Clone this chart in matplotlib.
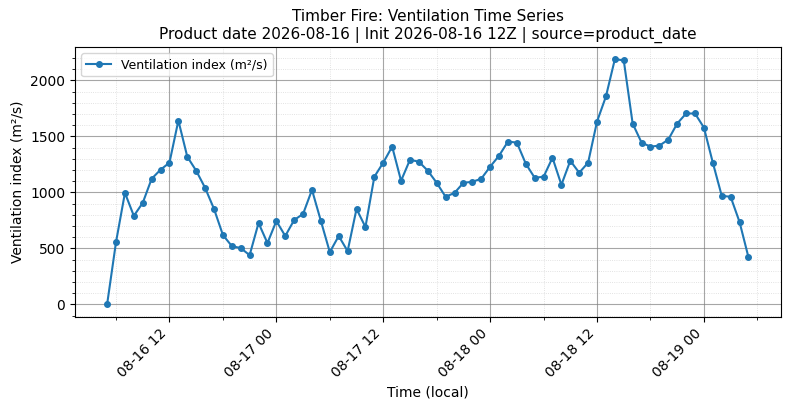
import matplotlib
matplotlib.use('Agg')
import matplotlib.pyplot as plt
import matplotlib.dates as mdates
from matplotlib.ticker import MultipleLocator
import pandas as pd


START_TIME = '2026-08-16 05:00'
# hourly ventilation index values
VENT_INDEX = [
    0, 556, 995, 790, 906, 1121, 1202, 1265, 1641, 1318,
    1193, 1040, 852, 619, 520, 502, 439, 726, 547, 744,
    610, 753, 807, 1022, 744, 466, 610, 475, 852, 690,
    1139, 1265, 1408, 1103, 1291, 1273, 1193, 1085, 960, 995,
    1085, 1094, 1121, 1229, 1327, 1453, 1444, 1256, 1130, 1139,
    1309, 1067, 1282, 1175, 1265, 1632, 1856, 2188, 2179, 1614,
    1444, 1408, 1417, 1471, 1614, 1704, 1704, 1578, 1265, 969,
    960, 735, 421,
]
TITLE = ('Timber Fire: Ventilation Time Series\n'
         'Product date 2026-08-16 | Init 2026-08-16 12Z | source=product_date')


def main():
    times = pd.date_range(START_TIME, periods=len(VENT_INDEX), freq='h')

    fig, ax = plt.subplots(figsize=(7.9, 4.09), dpi=100)
    ax.plot(times, VENT_INDEX, marker='o', markersize=4, linewidth=1.5,
            color='#1f77b4', label='Ventilation index (m²/s)')

    ax.set_title(TITLE, fontsize=11)
    ax.set_xlabel('Time (local)')
    ax.set_ylabel('Ventilation index (m²/s)')

    ax.xaxis.set_major_locator(mdates.HourLocator(byhour=[0, 12]))
    ax.xaxis.set_minor_locator(mdates.HourLocator(byhour=[6, 18]))
    ax.xaxis.set_major_formatter(mdates.DateFormatter('%m-%d %H'))
    ax.yaxis.set_major_locator(MultipleLocator(500))
    ax.yaxis.set_minor_locator(MultipleLocator(100))
    plt.setp(ax.get_xticklabels(), rotation=45, ha='right')

    ax.grid(True, which='major', color='gray', alpha=0.7, linewidth=0.8)
    ax.grid(True, which='minor', linestyle=':', color='gray', alpha=0.3,
            linewidth=0.6)
    ax.legend(loc='upper left', fontsize=9)

    fig.subplots_adjust(left=0.095, right=0.988, top=0.885, bottom=0.226)
    fig.savefig('out.png', dpi=100)


if __name__ == '__main__':
    main()
